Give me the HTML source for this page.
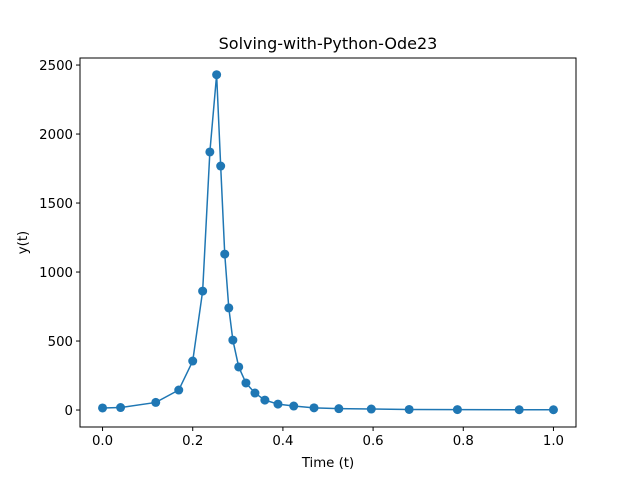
<!DOCTYPE html>
<html><head><meta charset="utf-8"><style>body{margin:0;background:#fff}svg{display:block;font-family:"DejaVu Sans","Liberation Sans",sans-serif}</style></head>
<body>
<svg id="chart" width="640" height="480"></svg>
<script>
const times=[0,0.04,0.118,0.169,0.2,0.222,0.238,0.253,0.262,0.271,0.28,0.289,0.302,0.318,0.338,0.36,0.389,0.424,0.469,0.524,0.596,0.68,0.787,0.924,1.0];
const values=[15,18,55,145,355,862,1870,2430,1768,1130,740,507,312,196,123,72,43,29,16,10,7,4,3,2,2];
const xTicks=[0,0.2,0.4,0.6,0.8,1.0];
const xTickLabels=["0.0","0.2","0.4","0.6","0.8","1.0"];
const yTicks=[0,500,1000,1500,2000,2500];
const svg=document.getElementById('chart');
const NS='http://www.w3.org/2000/svg';
const L=80,R=576,T=58,B=427;
const xmin=-0.05,xmax=1.05,ymin=-123,ymax=2551;
const xs=v=>L+(v-xmin)/(xmax-xmin)*(R-L);
const ys=v=>B-(v-ymin)/(ymax-ymin)*(B-T);
function mk(tag,attrs,name){const e=document.createElementNS(NS,tag);for(const k in attrs)e.setAttribute(k,attrs[k]);


svg.appendChild(e);return e;}
mk('rect',{x:L,y:T,width:R-L,height:B-T,fill:'#fff',stroke:'#000','stroke-width':1},'plot-area');
xTicks.forEach((t,i)=>{const x=xs(t);
mk('line',{x1:x,x2:x,y1:B,y2:B+4,stroke:'#000'},'x-tick');
const tx=mk('text',{x:x,y:B+18,'text-anchor':'middle','font-size':'13.3px'},'x-tick-label');tx.textContent=xTickLabels[i];});
yTicks.forEach(t=>{const y=ys(t);
mk('line',{x1:L-4,x2:L,y1:y,y2:y,stroke:'#000'},'y-tick');
const tx=mk('text',{x:L-7,y:y+5,'text-anchor':'end','font-size':'13.3px'},'y-tick-label');tx.textContent=t;});
const pts=times.map((t,i)=>xs(t)+','+ys(values[i])).join(' ');
mk('polyline',{points:pts,fill:'none',stroke:'#1f77b4','stroke-width':1.5},'series-line');
times.forEach((t,i)=>{mk('circle',{cx:xs(t),cy:ys(values[i]),r:4.5,fill:'#1f77b4'},'data-point');});
const ti=mk('text',{x:(L+R)/2,y:T-9,'text-anchor':'middle','font-size':'16px'},'chart-title');ti.textContent='Solving-with-Python-Ode23';
const xl=mk('text',{x:(L+R)/2,y:B+40,'text-anchor':'middle','font-size':'13.3px'},'x-axis-title');xl.textContent='Time (t)';
const yl=mk('text',{x:0,y:0,'text-anchor':'middle','font-size':'13.3px',transform:`translate(27,${(T+B)/2}) rotate(-90)`},'y-axis-title');yl.textContent='y(t)';
</script>
</body></html>
